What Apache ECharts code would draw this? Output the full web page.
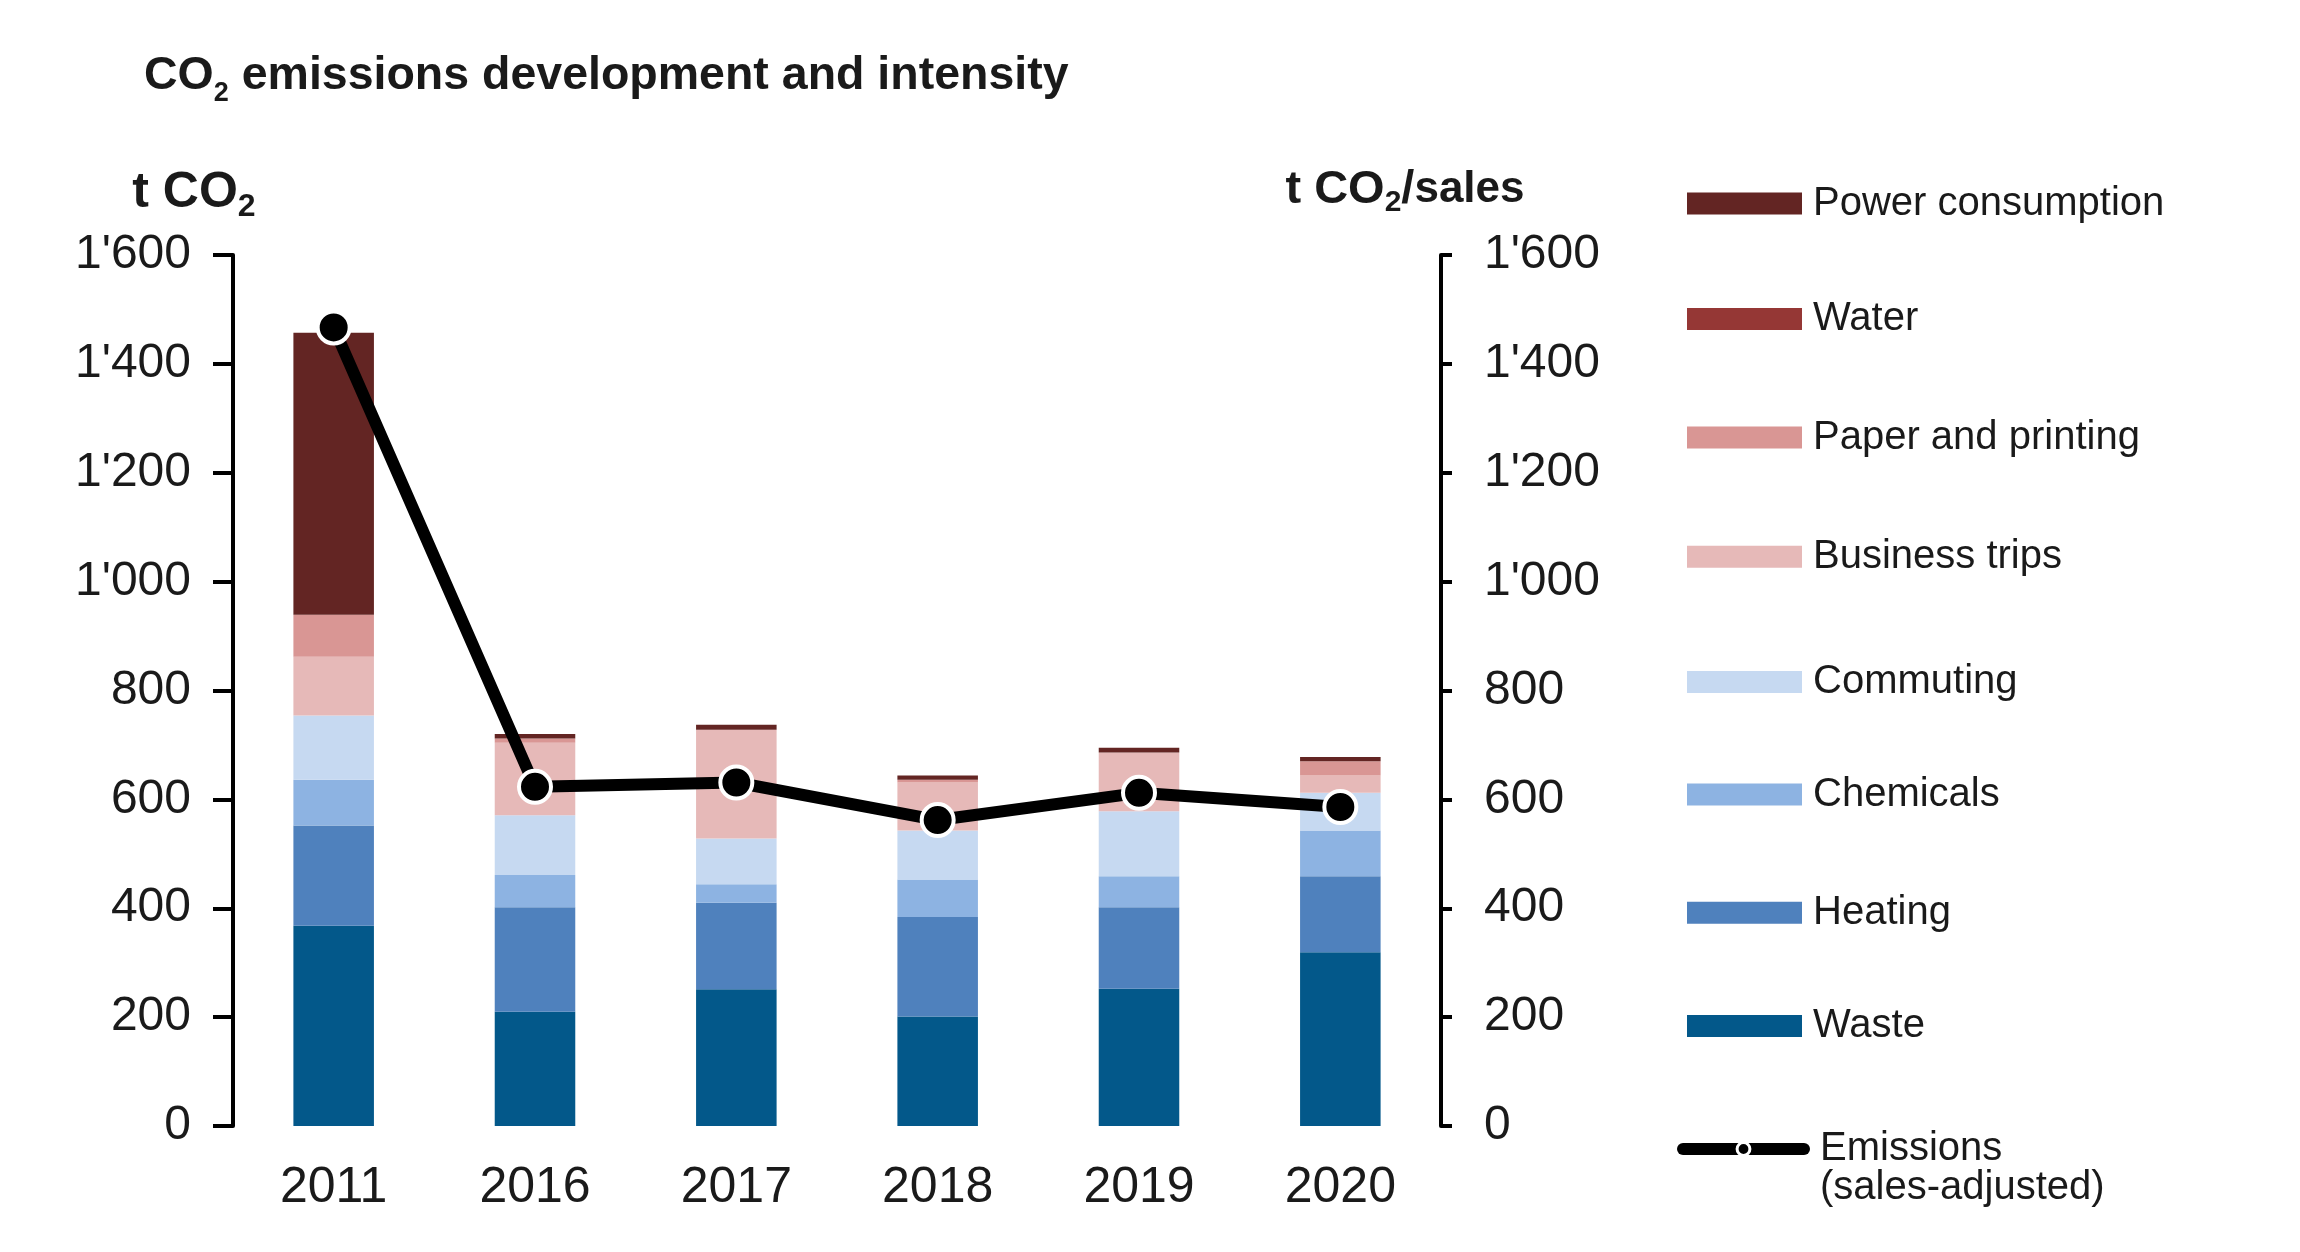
<!DOCTYPE html>
<html><head><meta charset="utf-8">
<script src="https://cdn.jsdelivr.net/npm/echarts@6/dist/echarts.min.js"></script>
<style>html,body{margin:0;padding:0;background:#fff}#c{width:2300px;height:1252px}</style>
</head><body><div id="c"></div>
<script>
// ---- data (t CO2) ----
const years = ['2011', '2016', '2017', '2018', '2019', '2020'];
const waste = [368, 210, 251, 201, 252, 319];
const heating = [184, 192, 159, 183, 150, 140];
const chemicals = [84, 59, 34, 69, 57, 84];
const commuting = [118, 110, 84, 90, 119, 69];
const businessTrips = [108, 133, 200, 88, 108, 32];
const paperPrinting = [77, 8, 0, 5, 0, 26];
const water = [0, 0, 0, 0, 0, 0];
const powerConsumption = [518, 8, 9, 8, 9, 8];
const emissionsSalesAdjusted = [1467, 623, 631, 562, 612, 586];
const axisMin = 0, axisMax = 1600, axisStep = 200;

// ---- styling ----
const FONT = 'Liberation Sans, Arial, Helvetica, sans-serif';
const TXT = '#1a1a1a';
const stackSeries = [
  { name: 'Waste', data: waste, color: '#03588a' },
  { name: 'Heating', data: heating, color: '#4f81bd' },
  { name: 'Chemicals', data: chemicals, color: '#8db3e2' },
  { name: 'Commuting', data: commuting, color: '#c6d9f1' },
  { name: 'Business trips', data: businessTrips, color: '#e6b9b8' },
  { name: 'Paper and printing', data: paperPrinting, color: '#d99694' },
  { name: 'Water', data: water, color: '#953735' },
  { name: 'Power consumption', data: powerConsumption, color: '#632523' }
];
const legendCenters = {
  'Power consumption': 203.5, 'Water': 319, 'Paper and printing': 437.5, 'Business trips': 556.7,
  'Commuting': 682, 'Chemicals': 794.5, 'Heating': 912.7, 'Waste': 1026
};

function fmt(v) {
  if (v >= 1000) return Math.floor(v / 1000) + "'" + String(v % 1000).padStart(3, '0');
  return String(v);
}

const series = stackSeries.map(s => ({
  name: s.name, type: 'bar', stack: 'total', data: s.data, barWidth: '40%',
  itemStyle: { color: s.color }, z: 2
}));
series.push({
  name: 'Emissions', type: 'line', yAxisIndex: 1, data: emissionsSalesAdjusted,
  symbol: 'circle', symbolSize: 32, z: 5,
  lineStyle: { color: '#000', width: 12 },
  itemStyle: { color: '#000', borderColor: '#fff', borderWidth: 4 }
});

const legends = Object.keys(legendCenters).map(name => ({
  data: [name], orient: 'vertical', left: 1687, top: legendCenters[name] - 20,
  itemWidth: 115, itemHeight: 22, padding: 0, selectedMode: false, icon: 'rect',
  textStyle: { fontSize: 40, fontFamily: FONT, color: TXT, padding: [0, 0, 0, 6] }
}));
legends.push({
  data: ['Emissions'], orient: 'vertical', left: 1677, top: 1090,
  itemWidth: 121, itemHeight: 16, padding: 0, selectedMode: false,
  lineStyle: { width: 12, color: '#000', cap: 'round' },
  itemStyle: { color: '#000', borderColor: '#fff', borderWidth: 3 },
  formatter: () => '\nEmissions\n(sales-adjusted)',
  textStyle: { fontSize: 40, fontFamily: FONT, color: TXT, lineHeight: 39, padding: [0, 0, 0, 11] }
});

const axisCommon = {
  type: 'value', min: axisMin, max: axisMax, interval: axisStep,
  splitLine: { show: false },
  axisLine: { show: true, lineStyle: { color: '#000', width: 4 } },
  axisTick: { show: true, inside: false, lineStyle: { color: '#000', width: 4 } },
  axisLabel: { fontSize: 48, fontFamily: FONT, color: TXT, formatter: fmt }
};

const option = {
  animation: false,
  backgroundColor: '#fff',
  title: {
    text: '{m|CO}{s|2}{m| emissions development and intensity}',
    left: 144, top: 45, padding: 0,
    textStyle: {
      rich: {
        m: { fontSize: 46.5, fontWeight: 'bold', fontFamily: FONT, color: TXT, lineHeight: 62 },
        s: { fontSize: 27, fontWeight: 'bold', fontFamily: FONT, color: TXT, lineHeight: 27, padding: [36, 0, 0, 0] }
      }
    }
  },
  legend: legends,
  grid: { left: 233, right: 859, top: 255, bottom: 126, containLabel: false, outerBoundsMode: 'none' },
  xAxis: {
    type: 'category', data: years, boundaryGap: true,
    axisLine: { show: false }, axisTick: { show: false },
    axisLabel: { fontSize: 50, fontFamily: FONT, color: TXT, margin: 37, lineHeight: 50 }
  },
  yAxis: [
    Object.assign({}, axisCommon, {
      position: 'left',
      axisTick: Object.assign({}, axisCommon.axisTick, { length: 20 }),
      axisLabel: Object.assign({}, axisCommon.axisLabel, { margin: 42 }),
      name: '{m|t CO}{s|2}', nameLocation: 'end', nameGap: 32,
      nameTextStyle: {
        padding: [0, 78, 0, 0],
        rich: {
          m: { fontSize: 50, fontWeight: 'bold', fontFamily: FONT, color: TXT, lineHeight: 60 },
          s: { fontSize: 32, fontWeight: 'bold', fontFamily: FONT, color: TXT, lineHeight: 32, padding: [28, 0, 0, 0] }
        }
      }
    }),
    Object.assign({}, axisCommon, {
      position: 'right',
      axisTick: Object.assign({}, axisCommon.axisTick, { length: 11 }),
      axisLabel: Object.assign({}, axisCommon.axisLabel, { margin: 43 }),
      name: '{m|t CO}{s|2}{m|/}{t|sales}', nameLocation: 'end', nameGap: 37,
      nameTextStyle: {
        padding: [0, 72, 0, 0],
        rich: {
          m: { fontSize: 47, fontWeight: 'bold', fontFamily: FONT, color: TXT, lineHeight: 56 },
          s: { fontSize: 30, fontWeight: 'bold', fontFamily: FONT, color: TXT, lineHeight: 30, padding: [26, 0, 0, 0] },
          t: { fontSize: 44, fontWeight: 'bold', fontFamily: FONT, color: TXT, lineHeight: 56 }
        }
      }
    })
  ],
  series: series
};

const chart = echarts.init(document.getElementById('c'), null, { renderer: 'canvas' });
chart.setOption(option);
</script>
</body></html>
